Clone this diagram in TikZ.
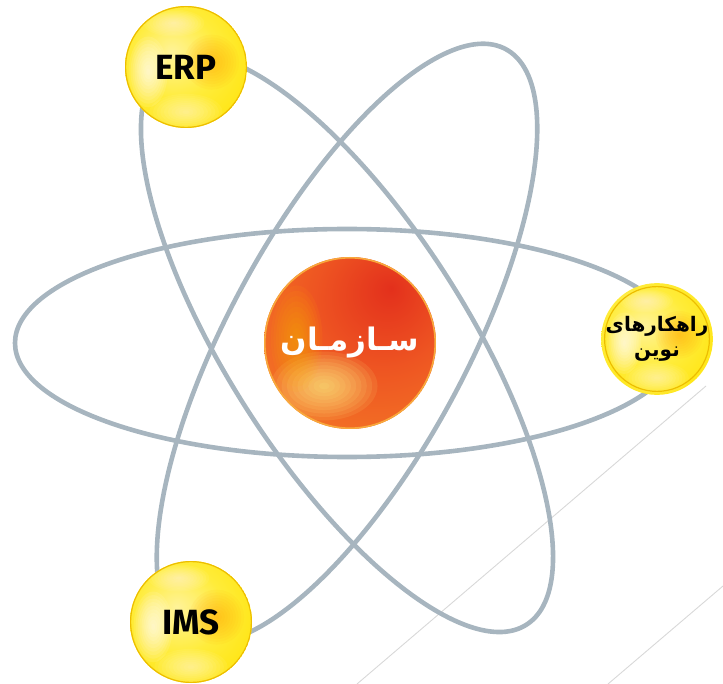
\documentclass[tikz,border=0pt]{standalone}
\usepackage{fontspec}
\setmainfont{Fira Sans}
\newfontfamily\arabicfont[Script=Arabic]{DejaVu Sans}
\TeXXeTstate=1
\definecolor{orbit}{HTML}{A7B5BF}
\definecolor{faint}{HTML}{D8D8D8}
\definecolor{ylt}{HTML}{FFF39A}
\definecolor{ylt2}{HTML}{FFEC3A}
\definecolor{ymain}{HTML}{FFE40A}
\definecolor{yedge}{HTML}{F8D000}
\definecolor{yrim}{HTML}{EDBE00}
\definecolor{oc}{HTML}{E3301C}
\definecolor{om}{HTML}{EE5522}
\definecolor{oe}{HTML}{F57E26}
\definecolor{orim}{HTML}{F8A93C}
\pgfdeclareradialshading{yball}{\pgfpoint{-6bp}{6bp}}{color(0bp)=(ylt); color(18bp)=(ylt2); color(36bp)=(ymain); color(50bp)=(yedge); color(58bp)=(yrim); color(90bp)=(yrim)}
\pgfdeclareradialshading{oball}{\pgfpoint{12bp}{16bp}}{color(0bp)=(oc); color(20bp)=(om); color(46bp)=(oe); color(62bp)=(orim); color(90bp)=(orim)}
% soft glow: stacked translucent ellipses
\newcommand\glowat[6]{%
  \foreach \gk in {1,...,10}{%
    \fill[#1, opacity=#2] ([shift={(#3,#4)}]path picture bounding box.center)
      ellipse [x radius={#5*\gk/10}, y radius={#6*\gk/10}];}}
\tikzset{
  orbitline/.style={draw=orbit, line width=4.6pt},
  faintline/.style={draw=faint, line width=0.9pt},
  yellowball/.style={circle, minimum size={2*#1}, inner sep=0pt, shading=yball,
    path picture={
      \glowat{white}{0.1}{-0.62*#1}{-0.08*#1}{0.32*#1}{0.58*#1}
      \glowat{orange!70!yellow}{0.07}{0.42*#1}{0.08*#1}{0.45*#1}{0.45*#1}
      \glowat{white}{0.06}{0}{-0.74*#1}{0.6*#1}{0.3*#1}
      \glowat{white}{0.06}{-0.2*#1}{0.72*#1}{0.5*#1}{0.22*#1}
      \draw[yrim, line width=1.2pt] (path picture bounding box.center) circle [radius={#1-0.6}];
    }},
  orangeball/.style={circle, minimum size={2*#1}, inner sep=0pt, shading=oball,
    path picture={
      \glowat{yellow!45!white}{0.1}{-0.3*#1}{-0.5*#1}{0.62*#1}{0.4*#1}
      \glowat{orange!55!yellow}{0.07}{-0.62*#1}{0.05*#1}{0.3*#1}{0.62*#1}
      \draw[orim, line width=1.6pt] (path picture bounding box.center) circle [radius={#1-0.8}];
    }},
  latintext/.style={font=\fontsize{35}{35}\selectfont\bfseries, text=black},
}
\begin{document}
\begin{tikzpicture}[x=1pt,y=1pt]
\useasboundingbox (0,0) rectangle (723,-684);
% faint background lines
\draw[faintline] (357,-684) -- (706,-386);
\draw[faintline] (608,-684) -- (723,-586);
% orbits
\draw[orbitline] (347,-343) ellipse [x radius=332, y radius=114];
\draw[orbitline, rotate around={-57.5:(347,-343)}] (347,-343) ellipse [x radius=334, y radius=120];
\draw[orbitline, rotate around={61.6:(347,-343)}] (347,-343) ellipse [x radius=334, y radius=119];
% balls
\node[orangeball=86, text=white, font=\arabicfont\bfseries\fontsize{31}{31}\selectfont] (org) at (350,-343) {\beginR سـازمـان\endR};
\node[yellowball=61, latintext] (erp) at (186,-67) {ERP};
\node[yellowball=61, latintext] (ims) at (191,-622) {IMS};
\node[yellowball=53, align=center, text=black, font=\arabicfont\bfseries\fontsize{20}{25}\selectfont] (new) at (657,-339) {\beginR راهکارهای\endR\\\beginR نوین\endR};
\end{tikzpicture}
\end{document}
